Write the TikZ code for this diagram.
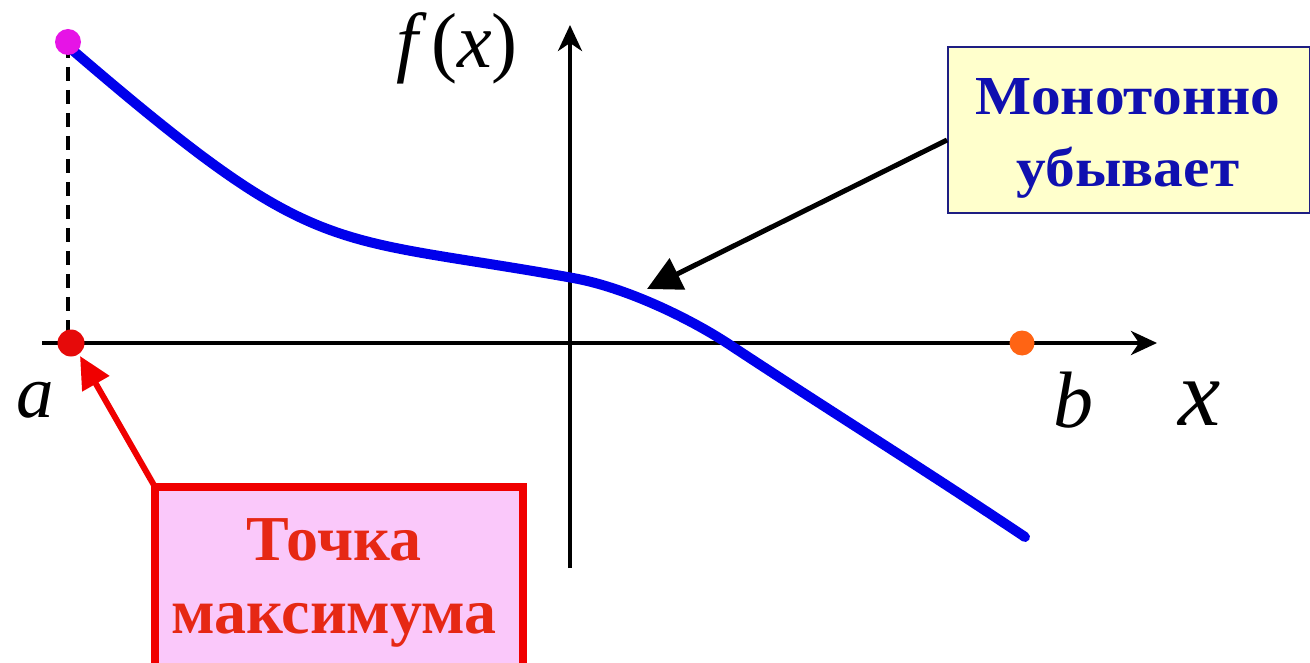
\documentclass[tikz,border=0pt]{standalone}
\usepackage{fontspec}
\setmainfont{Liberation Serif}
\newfontfamily\monofam[FakeStretch=1.08]{Liberation Serif}
\usetikzlibrary{arrows.meta}
\definecolor{curveblue}{RGB}{0,0,235}
\definecolor{ptmag}{RGB}{230,20,230}
\definecolor{ptred}{RGB}{230,10,10}
\definecolor{ptorange}{RGB}{255,100,20}
\definecolor{yelfill}{RGB}{255,255,204}
\definecolor{yelborder}{RGB}{30,30,130}
\definecolor{monotext}{RGB}{16,16,176}
\definecolor{maxtext}{RGB}{230,40,20}
\definecolor{pinkfill}{RGB}{250,200,250}
\definecolor{redborder}{RGB}{240,0,0}
\tikzset{
  axis/.style={line width=4pt,-{Stealth[length=26pt,width=24pt,inset=8pt]}},
  dot/.style={circle,inner sep=0pt,minimum size=#1},
  lbl/.style={anchor=base,inner sep=0pt},
}
\begin{document}
\begin{tikzpicture}[x=1pt,y=-1pt]
\useasboundingbox (0,0) rectangle (1310,663);
% axes
\coordinate (xs) at (42,343);
\coordinate (xe) at (1157,343);
\coordinate (ys) at (570,568);
\coordinate (ye) at (570,25);
\draw[axis] (xs) -- (xe);
\draw[axis] (ys) -- (ye);
% dashed line
\coordinate (atop) at (68,44);
\coordinate (abot) at (68,343);
\draw[line width=4pt,dash pattern=on 14pt off 9pt] (atop) -- (abot);
% curve
\coordinate (c0) at (70,48);
\coordinate (c1) at (573,278);
\coordinate (c2) at (727,343);
\coordinate (c3) at (1025,537);
\draw[curveblue,line width=10pt,line cap=round]
  (c0) .. controls (320,263) and (323,233) .. (c1)
       .. controls (624,287) and (687,317) .. (c2)
       .. controls (827,409) and (925,470) .. (c3);
% points
\node[dot=26pt,fill=ptmag] (pmax) at (68,42) {};
\node[dot=27pt,fill=ptred] (pa) at (71,343) {};
\node[dot=25pt,fill=ptorange] (pb) at (1022,343) {};
% labels
\node[lbl,font=\fontsize{75}{75}\selectfont\itshape] (la) at (35,417) {a};
\node[lbl,font=\fontsize{80}{80}\selectfont\itshape] (lb) at (1073,427) {b};
\node[lbl,font=\fontsize{95}{95}\selectfont\itshape] (lx) at (1200,425) {x};
\node[lbl,font=\fontsize{78}{78}\selectfont] (lf) at (457,68) {{\itshape f}\,({\itshape x})};
% boxes
\node[draw=yelborder,line width=2pt,fill=yelfill,minimum width=362pt,minimum height=166pt,inner sep=0pt] (mono) at (1129,130) {};
\node[font=\fontsize{55}{72}\monofam\bfseries,text=monotext,align=center,anchor=base] (monot) at (1128,187) {Монотонно\\убывает};
\node[draw=redborder,line width=8pt,fill=pinkfill,minimum width=368pt,minimum height=200pt,inner sep=0pt,anchor=north] (maxb) at (339,483) {};
\node[font=\fontsize{64}{73}\selectfont\bfseries,text=maxtext,align=center,anchor=base] (maxt) at (334,633) {Точка\\максимума};
% arrows
\coordinate (tipc) at (647,289);
\draw[line width=5pt,-{Triangle[length=34pt,width=34pt]}] ([yshift=-10pt]mono.west) -- (tipc);
\coordinate (tipa) at (80,356);
\draw[redborder,line width=6pt,-{Triangle[length=32pt,width=30pt]}] ([xshift=4pt,yshift=-4pt]maxb.north west) -- (tipa);
\end{tikzpicture}
\end{document}
